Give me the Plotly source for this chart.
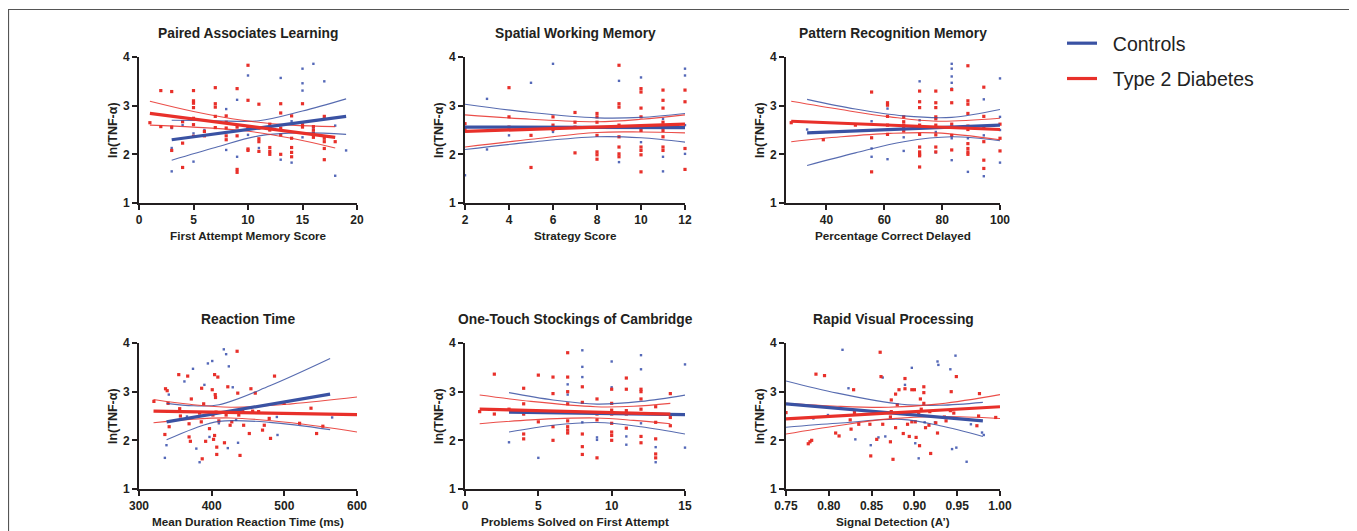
import plotly.graph_objects as go

W, H = 1357, 531
OFF = 8  # page body margin of the browser
BLUE = '#3a52a3'
BLUE_PT = '#5468b8'
RED = '#e8302a'
FONT = 'Liberation Sans, Arial, Helvetica, sans-serif'
INK = '#231f20'

# ---------------- Panel titles / axis titles ----------------
titles = ["Paired Associates Learning", "Spatial Working Memory", "Pattern Recognition Memory",
          "Reaction Time", "One-Touch Stockings of Cambridge", "Rapid Visual Processing"]
xtitles = ["First Attempt Memory Score", "Strategy Score", "Percentage Correct Delayed",
           "Mean Duration Reaction Time (ms)", "Problems Solved on First Attempt", "Signal Detection (A\u2019)"]
ytitle = "ln(TNF-\u03b1)"
legend_names = ["Controls", "Type 2 Diabetes"]
xranges = [[0, 20], [2, 12], [26, 100], [300, 600], [0, 15], [0.75, 1.0]]
xticks = [[0, 5, 10, 15, 20], [2, 4, 6, 8, 10, 12], [40, 60, 80, 100],
          [300, 400, 500, 600], [0, 5, 10, 15], [0.75, 0.80, 0.85, 0.90, 0.95, 1.00]]
yticks = [1, 2, 3, 4]

# ---------------- Paired Associates Learning ----------------
pal_ctrl_x = [3, 3, 3, 4, 5, 5, 6, 8, 8, 9, 9, 10, 10, 11, 12, 13, 13, 13, 14, 14, 15, 15, 15, 15, 16, 16, 17, 17, 18, 18, 19]
pal_ctrl_y = [1.65, 2.13, 2.54, 2.60, 1.85, 2.43, 2.50, 2.93, 2.09, 3.12, 1.95, 3.62, 2.40, 2.13, 2.50, 3.57, 1.89, 2.40,
              1.83, 2.68, 3.76, 3.46, 3.31, 2.35, 3.86, 2.55, 3.50, 2.78, 1.56, 2.59, 2.08]
pal_t2d_x = [1, 2, 2, 3, 3, 3, 4, 4, 4, 5, 5, 5, 5, 5, 5, 5, 6, 6, 7, 7, 7, 7, 7, 8, 8, 8, 8, 8,
             9, 9, 9, 9, 9, 10, 10, 10, 10, 10, 10, 11, 11, 11, 11, 11, 12, 12, 12, 12, 12, 12,
             13, 13, 13, 13, 13, 14, 14, 14, 14, 14, 15, 15, 15, 16, 16, 16, 16, 17, 17, 17, 17, 17, 18]
pal_t2d_y = [2.65, 3.31, 2.57, 3.29, 2.56, 2.08, 2.67, 2.23, 1.73, 3.31, 3.10, 3.05, 2.96, 2.74, 2.61, 2.37,
             2.47, 2.38, 3.37, 3.04, 2.97, 2.78, 2.55, 2.79, 2.66, 2.54, 2.38, 2.30,
             3.35, 2.56, 2.38, 1.69, 1.63, 3.83, 3.11, 2.57, 2.52, 2.11, 2.08, 3.03, 2.54, 2.32, 2.26, 2.06,
             2.62, 2.57, 2.50, 2.14, 2.06, 2.00, 3.04, 2.85, 2.54, 2.40, 2.00, 2.79, 2.33, 2.14, 2.04, 1.95,
             3.04, 2.61, 2.56, 2.57, 2.50, 2.44, 2.35, 2.78, 2.33, 2.26, 2.12, 1.89, 2.26]
pal_ctrl_fit_x = [3, 19]
pal_ctrl_fit_y = [2.30, 2.78]
pal_ctrl_ci_x = [3, 7, 11, 15, 19]
pal_ctrl_ci_hi = [2.70, 2.69, 2.69, 2.89, 3.14]
pal_ctrl_ci_lo = [1.88, 2.14, 2.38, 2.44, 2.41]
pal_t2d_fit_x = [1, 18]
pal_t2d_fit_y = [2.84, 2.35]
pal_t2d_ci_x = [1, 5, 9.5, 14, 18]
pal_t2d_ci_hi = [3.09, 2.88, 2.70, 2.60, 2.57]
pal_t2d_ci_lo = [2.60, 2.56, 2.49, 2.33, 2.13]

# ---------------- Spatial Working Memory ----------------
swm_ctrl_x = [2, 3, 3, 4, 5, 6, 6, 8, 9, 9, 10, 10, 10, 11, 11, 11, 12, 12, 12, 12]
swm_ctrl_y = [1.57, 3.14, 2.10, 2.39, 3.47, 3.86, 2.46, 2.55, 3.51, 1.84, 3.58, 2.49, 2.25, 1.95, 1.65, 2.73,
              3.76, 3.62, 2.60, 2.01]
swm_t2d_x = [2, 2, 4, 4, 4, 5, 5, 6, 6, 6, 7, 7, 7, 7, 8, 8, 8, 8, 8, 8, 8,
             9, 9, 9, 9, 9, 9, 9, 9, 10, 10, 10, 10, 10, 10, 10, 10, 10,
             11, 11, 11, 11, 11, 11, 11, 11, 12, 12, 12, 12]
swm_t2d_y = [2.63, 2.53, 3.37, 2.77, 2.56, 2.39, 1.73, 2.77, 2.60, 2.51, 2.86, 2.66, 2.56, 2.03,
             2.84, 2.77, 2.66, 2.39, 2.05, 1.99, 1.90, 3.83, 3.04, 2.97, 2.60, 2.36, 2.15, 2.01, 1.95,
             3.35, 3.28, 2.95, 2.77, 2.49, 2.15, 2.08, 1.99, 1.64, 3.32, 3.11, 2.95, 2.66, 2.49, 2.36, 2.15, 2.08,
             3.32, 3.08, 2.12, 1.69]
swm_ctrl_fit_x = [2, 12]
swm_ctrl_fit_y = [2.56, 2.55]
swm_ctrl_ci_x = [2, 5, 8, 10, 12]
swm_ctrl_ci_hi = [3.03, 2.86, 2.75, 2.76, 2.84]
swm_ctrl_ci_lo = [2.10, 2.25, 2.36, 2.34, 2.25]
swm_t2d_fit_x = [2, 12]
swm_t2d_fit_y = [2.47, 2.62]
swm_t2d_ci_x = [2, 5, 8, 10, 12]
swm_t2d_ci_hi = [2.81, 2.72, 2.67, 2.72, 2.81]
swm_t2d_ci_lo = [2.15, 2.31, 2.45, 2.46, 2.44]

# ---------------- Pattern Recognition Memory ----------------
prm_ctrl_x = [33.3, 55.6, 55.6, 55.6, 61.1, 61.1, 66.7, 66.7, 72.2, 72.2, 72.2, 77.8, 77.8,
              83.3, 83.3, 83.3, 83.3, 83.3, 83.3, 83.3, 88.9, 88.9, 94.4, 94.4, 94.4, 100, 100, 100, 100]
prm_ctrl_y = [2.51, 2.68, 2.12, 1.95, 2.94, 1.90, 2.35, 2.07, 3.50, 3.08, 2.70, 2.46, 2.04,
              3.86, 3.76, 3.60, 3.47, 3.35, 2.33, 1.88, 2.33, 1.64, 3.13, 2.39, 1.55, 3.56, 2.77, 2.50, 1.83]
prm_t2d_x = [27.8, 38.9, 50, 55.6, 55.6, 55.6, 61.1, 61.1, 61.1, 61.1, 61.1, 66.7, 66.7, 66.7, 66.7, 66.7,
             72.2, 72.2, 72.2, 72.2, 72.2, 72.2, 72.2, 72.2, 72.2, 72.2,
             77.8, 77.8, 77.8, 77.8, 77.8, 77.8, 77.8, 77.8, 77.8,
             83.3, 83.3, 83.3, 83.3, 83.3, 83.3,
             88.9, 88.9, 88.9, 88.9, 88.9, 88.9, 88.9, 88.9, 88.9, 88.9,
             94.4, 94.4, 94.4, 94.4, 94.4, 94.4, 100, 100, 100]
prm_t2d_y = [2.65, 2.30, 2.60, 3.28, 2.34, 1.64, 3.06, 3.01, 2.78, 2.60, 2.41, 2.77, 2.67, 2.60, 2.53, 2.48,
             3.30, 3.08, 2.96, 2.60, 2.41, 2.15, 2.05, 2.00, 1.97, 1.74,
             3.30, 3.06, 2.96, 2.77, 2.73, 2.60, 2.40, 2.15, 2.05,
             3.33, 3.06, 2.62, 2.56, 2.39, 2.09,
             3.82, 3.10, 3.03, 2.84, 2.58, 2.51, 2.22, 2.12, 2.05, 2.00,
             3.38, 2.78, 2.55, 2.26, 1.88, 1.71, 2.62, 2.33, 2.07]
prm_ctrl_fit_x = [33.3, 100]
prm_ctrl_fit_y = [2.44, 2.60]
prm_ctrl_ci_x = [33.3, 50, 66.7, 83.3, 100]
prm_ctrl_ci_hi = [3.13, 2.93, 2.79, 2.76, 2.92]
prm_ctrl_ci_lo = [1.77, 2.03, 2.26, 2.36, 2.28]
prm_t2d_fit_x = [27.8, 100]
prm_t2d_fit_y = [2.68, 2.51]
prm_t2d_ci_x = [27.8, 45, 62, 78, 100]
prm_t2d_ci_hi = [3.09, 2.92, 2.77, 2.68, 2.74]
prm_t2d_ci_lo = [2.26, 2.36, 2.43, 2.44, 2.30]

# ---------------- Reaction Time ----------------
rt_ctrl_x = [335.6, 337.8, 341, 362.5, 366, 374.3, 378.9, 383.4, 390, 394.8, 397, 400.8, 409.9, 416.7, 419.9,
             422.2, 423.6, 429, 433.6, 436.3, 489.7, 490.6, 565.8]
rt_ctrl_y = [1.64, 1.90, 2.94, 3.21, 2.49, 3.47, 1.83, 1.55, 3.14, 3.58, 2.07, 3.63, 2.35, 3.87, 3.77,
             1.84, 3.52, 3.09, 2.42, 1.95, 2.48, 2.11, 2.47]
rt_t2d_x = [320.5, 335.6, 336.5, 338.8, 340, 341.5, 354.7, 356, 357, 367, 368.9, 368.9, 370.7, 372,
            383.4, 385.7, 386.2, 387, 389, 391.7, 397, 400.8, 401.7, 402.6, 404, 404.9, 405.3, 404, 406,
            407, 407, 408.5, 409.9, 417.6, 419.9, 422.2, 425.4, 427.7, 435, 435.9, 437.3, 439, 440.4,
            442.7, 444, 451.8, 454, 456.4, 460, 464.6, 470, 472.4, 479.2, 481, 486.5, 499.7, 521, 536.7,
            544.4, 553]
rt_t2d_y = [2.80, 2.12, 3.06, 3.02, 2.76, 2.28, 3.35, 2.65, 2.50, 3.32, 2.34, 2.07, 1.98, 2.85,
            2.56, 2.38, 3.07, 1.62, 2.75, 1.98, 2.24, 3.04, 2.52, 2.02, 3.35, 2.94, 2.88, 2.10, 2.58,
            1.86, 1.71, 3.30, 2.40, 1.95, 2.52, 3.10, 2.31, 2.38, 3.83, 2.97, 2.52, 1.69, 2.62,
            2.59, 2.31, 2.14, 3.06, 2.60, 2.97, 2.59, 2.21, 2.31, 2.45, 2.04, 3.32, 2.76, 2.35, 2.66,
            2.14, 2.29]
rt_ctrl_fit_x = [338, 563]
rt_ctrl_fit_y = [2.38, 2.95]
rt_ctrl_ci_x = [338, 375, 410, 480, 563]
rt_ctrl_ci_hi = [2.76, 2.71, 2.73, 3.12, 3.68]
rt_ctrl_ci_lo = [2.01, 2.24, 2.39, 2.37, 2.22]
rt_t2d_fit_x = [320, 600]
rt_t2d_fit_y = [2.60, 2.53]
rt_t2d_ci_x = [320, 370, 426, 510, 600]
rt_t2d_ci_hi = [2.84, 2.74, 2.68, 2.75, 2.89]
rt_t2d_ci_lo = [2.36, 2.43, 2.46, 2.36, 2.17]

# ---------------- One-Touch Stockings of Cambridge ----------------
ots_ctrl_x = [3, 4, 5, 7, 7, 8, 8, 8, 8, 9, 9, 10, 10, 11, 11, 12, 12, 12, 13, 13, 15, 15]
ots_ctrl_y = [1.96, 2.54, 1.64, 3.15, 2.94, 3.85, 3.51, 3.30, 2.37, 2.06, 2.01, 3.62, 3.09, 1.91, 2.08,
              3.75, 3.46, 2.35, 1.86, 1.55, 3.56, 1.85]
ots_t2d_x = [1, 2, 2, 3, 4, 4, 4, 4, 4, 5, 5, 6, 6, 6, 6, 7, 7, 7, 7, 7, 7, 7, 7, 7,
             8, 8, 8, 8, 8, 9, 9, 9, 9, 10, 10, 10, 10, 10, 10, 10, 10,
             11, 11, 11, 11, 11, 12, 12, 12, 12, 12, 12, 13, 13, 13, 13, 13, 14, 14, 14]
ots_t2d_y = [2.59, 3.36, 2.54, 2.64, 3.07, 2.75, 2.54, 2.13, 2.03, 3.34, 2.38, 3.30, 2.96, 2.28, 2.00,
             3.80, 3.30, 3.00, 2.75, 2.58, 2.40, 2.28, 2.21, 2.15, 3.10, 2.78, 2.13, 1.87, 1.71,
             2.85, 2.54, 2.42, 1.64, 3.05, 2.76, 2.62, 2.54, 2.35, 2.17, 2.10, 2.00,
             3.28, 3.05, 2.61, 2.54, 2.25, 3.05, 3.00, 2.85, 2.64, 2.08, 1.95,
             2.69, 2.37, 2.03, 1.72, 1.64, 2.96, 2.47, 2.30]
ots_ctrl_fit_x = [3, 15]
ots_ctrl_fit_y = [2.58, 2.53]
ots_ctrl_ci_x = [3, 6, 9, 12, 15]
ots_ctrl_ci_hi = [2.98, 2.83, 2.745, 2.80, 2.93]
ots_ctrl_ci_lo = [2.17, 2.31, 2.365, 2.28, 2.13]
ots_t2d_fit_x = [1, 14]
ots_t2d_fit_y = [2.64, 2.54]
ots_t2d_ci_x = [1, 4.5, 8.9, 11.5, 14]
ots_t2d_ci_hi = [2.93, 2.80, 2.69, 2.70, 2.76]
ots_t2d_ci_lo = [2.34, 2.42, 2.46, 2.41, 2.34]

# ---------------- Rapid Visual Processing ----------------
rvp_ctrl_x = [0.782, 0.799, 0.816, 0.823, 0.831, 0.849, 0.858, 0.863, 0.866, 0.889, 0.897, 0.901, 0.905,
              0.912, 0.924, 0.927, 0.928, 0.942, 0.944, 0.948, 0.949, 0.961, 0.966, 0.979, 0.981]
rvp_ctrl_y = [2.45, 2.52, 3.86, 3.07, 2.02, 1.90, 2.06, 3.29, 2.08, 3.14, 3.49, 1.94, 1.63,
              2.37, 2.37, 3.62, 3.55, 3.46, 1.82, 3.74, 1.85, 1.56, 2.33, 2.16, 2.11]
rvp_t2d_x = [0.75, 0.776, 0.778, 0.78, 0.785, 0.795, 0.808, 0.812, 0.825, 0.826, 0.829, 0.83, 0.835,
             0.848, 0.849, 0.856, 0.86, 0.861, 0.863, 0.872, 0.872, 0.873, 0.873, 0.875, 0.878, 0.878,
             0.88, 0.882, 0.887, 0.889, 0.889, 0.892, 0.892, 0.894, 0.897, 0.897, 0.9, 0.901, 0.902,
             0.905, 0.906, 0.907, 0.908, 0.911, 0.911, 0.911, 0.913, 0.917, 0.918, 0.919, 0.925, 0.927,
             0.935, 0.937, 0.942, 0.943, 0.946, 0.949, 0.973, 0.975, 0.976, 0.995]
rvp_t2d_y = [2.57, 1.93, 1.97, 2.00, 3.36, 3.33, 2.15, 2.09, 2.42, 2.23, 3.04, 2.57, 2.33,
             2.33, 1.68, 2.02, 3.81, 3.31, 2.33, 2.48, 1.97, 2.83, 2.59, 1.61, 2.95, 2.26,
             2.73, 3.04, 2.14, 3.27, 3.06, 2.54, 2.33, 2.08, 3.04, 2.38, 3.04, 2.38, 2.06,
             2.54, 1.89, 2.85, 2.64, 3.10, 2.98, 2.76, 2.26, 2.31, 2.59, 1.73, 2.36, 2.15,
             2.48, 2.40, 2.61, 3.00, 2.56, 3.31, 2.30, 2.50, 2.96, 2.47]
rvp_ctrl_fit_x = [0.75, 0.98]
rvp_ctrl_fit_y = [2.75, 2.40]
rvp_ctrl_ci_x = [0.75, 0.81, 0.885, 0.93, 0.98]
rvp_ctrl_ci_hi = [3.22, 2.97, 2.74, 2.72, 2.78]
rvp_ctrl_ci_lo = [2.27, 2.35, 2.43, 2.30, 2.08]
rvp_t2d_fit_x = [0.75, 1.0]
rvp_t2d_fit_y = [2.44, 2.69]
rvp_t2d_ci_x = [0.75, 0.81, 0.87, 0.93, 1.0]
rvp_t2d_ci_hi = [2.76, 2.70, 2.68, 2.75, 2.94]
rvp_t2d_ci_lo = [2.13, 2.30, 2.44, 2.49, 2.45]

panels = [
    (pal_ctrl_x, pal_ctrl_y, pal_t2d_x, pal_t2d_y, pal_ctrl_fit_x, pal_ctrl_fit_y, pal_ctrl_ci_x, pal_ctrl_ci_hi,
     pal_ctrl_ci_lo, pal_t2d_fit_x, pal_t2d_fit_y, pal_t2d_ci_x, pal_t2d_ci_hi, pal_t2d_ci_lo),
    (swm_ctrl_x, swm_ctrl_y, swm_t2d_x, swm_t2d_y, swm_ctrl_fit_x, swm_ctrl_fit_y, swm_ctrl_ci_x, swm_ctrl_ci_hi,
     swm_ctrl_ci_lo, swm_t2d_fit_x, swm_t2d_fit_y, swm_t2d_ci_x, swm_t2d_ci_hi, swm_t2d_ci_lo),
    (prm_ctrl_x, prm_ctrl_y, prm_t2d_x, prm_t2d_y, prm_ctrl_fit_x, prm_ctrl_fit_y, prm_ctrl_ci_x, prm_ctrl_ci_hi,
     prm_ctrl_ci_lo, prm_t2d_fit_x, prm_t2d_fit_y, prm_t2d_ci_x, prm_t2d_ci_hi, prm_t2d_ci_lo),
    (rt_ctrl_x, rt_ctrl_y, rt_t2d_x, rt_t2d_y, rt_ctrl_fit_x, rt_ctrl_fit_y, rt_ctrl_ci_x, rt_ctrl_ci_hi,
     rt_ctrl_ci_lo, rt_t2d_fit_x, rt_t2d_fit_y, rt_t2d_ci_x, rt_t2d_ci_hi, rt_t2d_ci_lo),
    (ots_ctrl_x, ots_ctrl_y, ots_t2d_x, ots_t2d_y, ots_ctrl_fit_x, ots_ctrl_fit_y, ots_ctrl_ci_x, ots_ctrl_ci_hi,
     ots_ctrl_ci_lo, ots_t2d_fit_x, ots_t2d_fit_y, ots_t2d_ci_x, ots_t2d_ci_hi, ots_t2d_ci_lo),
    (rvp_ctrl_x, rvp_ctrl_y, rvp_t2d_x, rvp_t2d_y, rvp_ctrl_fit_x, rvp_ctrl_fit_y, rvp_ctrl_ci_x, rvp_ctrl_ci_hi,
     rvp_ctrl_ci_lo, rvp_t2d_fit_x, rvp_t2d_fit_y, rvp_t2d_ci_x, rvp_t2d_ci_hi, rvp_t2d_ci_lo),
]

# pixel geometry of plot areas (page coordinates)
col_px = [(139, 357), (465, 685), (786, 1000)]
row_px = [(57, 203), (343, 489)]


def px(x):
    return (x - OFF) / W


def py(y):
    return 1 - (y - OFF) / H


fig = go.Figure()
layout = dict(
    width=W, height=H, margin=dict(l=0, r=0, t=0, b=0),
    paper_bgcolor='white', plot_bgcolor='white',
    font=dict(family=FONT, color=INK),
    showlegend=True,
    legend=dict(x=px(1062), y=py(24), xanchor='left', yanchor='top',
                font=dict(size=19.5, color='#222222', family=FONT),
                tracegroupgap=7, bgcolor='rgba(0,0,0,0)', itemwidth=30),
    annotations=[], shapes=[],
)

for i, p in enumerate(panels):
    (cx, cy, tx, ty, cfx, cfy, ccx, cchi, cclo, tfx, tfy, tcx, tchi, tclo) = p
    n = '' if i == 0 else str(i + 1)
    xa, ya = 'x' + n, 'y' + n
    r, c = divmod(i, 3)
    x0, x1 = col_px[c]
    y0, y1 = row_px[r]
    # scatter points
    fig.add_trace(go.Scatter(x=cx, y=cy, mode='markers', xaxis=xa, yaxis=ya, showlegend=False,
                             cliponaxis=False, marker=dict(size=2.4, color=BLUE_PT, symbol='square')))
    fig.add_trace(go.Scatter(x=tx, y=ty, mode='markers', xaxis=xa, yaxis=ya, showlegend=False,
                             cliponaxis=False, marker=dict(size=3.2, color=RED, symbol='square')))
    # confidence bands
    for xs, hi, lo, col in [(ccx, cchi, cclo, BLUE), (tcx, tchi, tclo, RED)]:
        for yy in (hi, lo):
            fig.add_trace(go.Scatter(x=xs, y=yy, mode='lines', xaxis=xa, yaxis=ya, showlegend=False,
                                     line=dict(color=col, width=1.1, shape='spline', smoothing=1.0),
                                     opacity=0.85, hoverinfo='skip'))
    # regression lines
    fig.add_trace(go.Scatter(x=cfx, y=cfy, mode='lines', xaxis=xa, yaxis=ya,
                             name='\u00a0\u00a0' + legend_names[0],
                             legendgroup='ctrl', showlegend=(i == 0), legendrank=1,
                             line=dict(color=BLUE, width=3.2)))
    fig.add_trace(go.Scatter(x=tfx, y=tfy, mode='lines', xaxis=xa, yaxis=ya,
                             name='\u00a0\u00a0' + legend_names[1],
                             legendgroup='t2d', showlegend=(i == 0), legendrank=2,
                             line=dict(color=RED, width=3.2)))

    axis_common = dict(showline=True, linecolor=INK, linewidth=1.6, ticks='outside', ticklen=5,
                       tickwidth=1.5, tickcolor=INK, showgrid=False, zeroline=False, fixedrange=True,
                       tickfont=dict(size=12, family=FONT, color=INK, weight='bold'), automargin=False)
    layout['xaxis' + n] = dict(domain=[px(x0), px(x1)], anchor=ya, range=xranges[i], tickvals=xticks[i],
                               tickformat='.2f' if i == 5 else None, **axis_common)
    layout['yaxis' + n] = dict(domain=[py(y1), py(y0)], anchor=xa, range=[1, 4], tickvals=yticks,
                               **axis_common)
    xc = (x0 + x1) / 2
    yc = (y0 + y1) / 2
    layout['annotations'] += [
        dict(text=titles[i], x=px(xc), y=py(y0 - 24), xref='paper', yref='paper', showarrow=False,
             xanchor='center', yanchor='middle', font=dict(size=13.8, family=FONT, color=INK, weight='bold')),
        dict(text=xtitles[i], x=px(xc), y=py(y1 + 32), xref='paper', yref='paper', showarrow=False,
             xanchor='center', yanchor='middle', font=dict(size=11.7, family=FONT, color=INK, weight='bold')),
        dict(text=ytitle, x=px(x0 - 26), y=py(yc), xref='paper', yref='paper', showarrow=False,
             textangle=-90, xanchor='center', yanchor='middle',
             font=dict(size=12.5, family=FONT, color=INK, weight='bold')),
    ]

# outer frame
layout['shapes'].append(dict(type='rect', xref='paper', yref='paper', x0=px(8.5), x1=px(1355.5),
                             y0=-0.1, y1=py(9.5), line=dict(color='#555555', width=1.2),
                             fillcolor='rgba(0,0,0,0)', layer='below'))

fig.update_layout(**layout)
fig.write_html("out.html")
